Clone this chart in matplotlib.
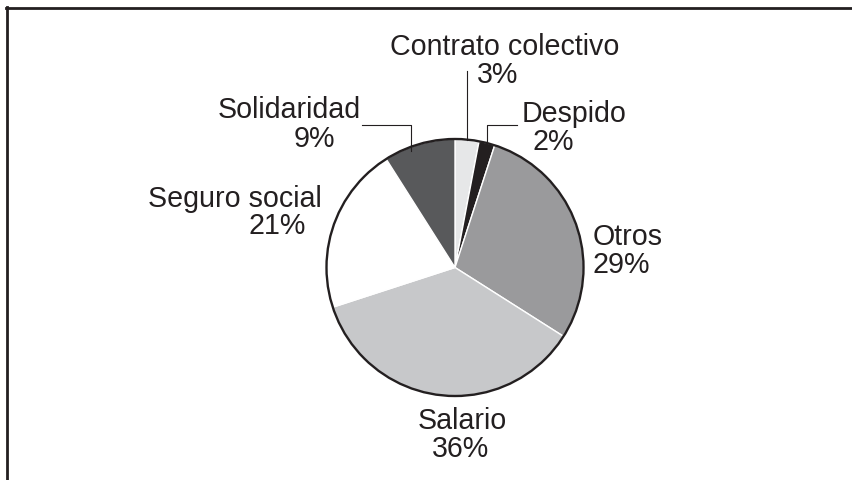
import numpy as np
import matplotlib
matplotlib.use('Agg')
import matplotlib.pyplot as plt
from matplotlib.patches import Circle
from matplotlib.lines import Line2D

W, H = 852, 481

# data
categories = ['Contrato colectivo', 'Despido', 'Otros', 'Salario', 'Seguro social', 'Solidaridad']
values = [3, 2, 29, 36, 21, 9]
colors = ['#e6e7e8', '#231f20', '#9a9a9c', '#c7c8ca', '#ffffff', '#58595b']

# label layout (pixels from top-left): name left/baseline, pct left/baseline
name_pos = [(390, 55), (522, 122), (593, 245), (418, 429), (148, 207), (218, 118)]
pct_pos = [(477, 83), (533, 150), (593, 273), (432, 457), (248, 234), (294, 147)]
# leader lines: (fraction along wedge, radius fraction, elbow y, end x) or None
leaders = [(0.5, 1.0, 72, None), (0.5, 1.0, 126, 517), None, None, None, (0.64, 0.97, 126, 362)]

cx, cy, R = 455, 268.5, 128.5
ink = '#231f20'

plt.rcParams['font.family'] = ['Liberation Sans', 'DejaVu Sans']

fig = plt.figure(figsize=(W / 100, H / 100), dpi=100)
ax = fig.add_axes([0, 0, 1, 1])

def py(y):
    return H - y

wedges, _ = ax.pie(values, colors=colors, startangle=90, counterclock=False,
                   center=(cx, py(cy)), radius=R, frame=True,
                   wedgeprops=dict(edgecolor='white', linewidth=1.0))
ax.set_xlim(0, W)
ax.set_ylim(0, H)
ax.set_aspect('equal')
ax.axis('off')
ax.add_patch(Circle((cx, py(cy)), R, fill=False, edgecolor=ink, linewidth=1.7, zorder=5))

for i, cat in enumerate(categories):
    nx, ny = name_pos[i]
    px, pyy = pct_pos[i]
    ax.text(nx, py(ny), cat, ha='left', va='baseline', fontsize=20.6, color=ink)
    ax.text(px, py(pyy), '%d%%' % values[i], ha='left', va='baseline', fontsize=20.6, color=ink)
    if leaders[i] is not None:
        frac, rf, ey, ex = leaders[i]
        w = wedges[i]
        ang = np.deg2rad(w.theta1 + frac * (w.theta2 - w.theta1))
        ax_x = cx + rf * R * np.cos(ang)
        ax_y = py(cy) + rf * R * np.sin(ang)
        xs = [ax_x, ax_x]
        ys = [ax_y, py(ey)]
        if ex is not None:
            xs.append(ex)
            ys.append(py(ey))
        ax.plot(xs, ys, color=ink, linewidth=0.8, zorder=6)

# frame lines (top and left only)
fig.add_artist(Line2D([6 / W, 1], [1 - 8.5 / H, 1 - 8.5 / H], transform=fig.transFigure,
                      color=ink, linewidth=2.0))
fig.add_artist(Line2D([7 / W, 7 / W], [1 - 7.5 / H, 0], transform=fig.transFigure,
                      color=ink, linewidth=2.0))

plt.savefig('out.png', dpi=100)
